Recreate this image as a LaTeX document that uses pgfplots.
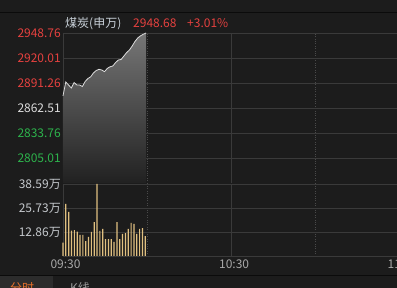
\documentclass[border=0pt]{standalone}
\usepackage{pgfplots}
\pgfplotsset{compat=1.18}
\usepackage{fontspec}
\setmainfont{Noto Sans CJK SC}
\definecolor{bg}{HTML}{1C1C1C}
\definecolor{sepc}{HTML}{0B0B0B}
\definecolor{gridc}{HTML}{3A3A3A}
\definecolor{dotc}{HTML}{4A4A4A}
\definecolor{up}{HTML}{E5413F}
\definecolor{dn}{HTML}{2DB34C}
\definecolor{flat}{HTML}{DCDCDC}
\definecolor{labc}{HTML}{C4C8CC}
\definecolor{timec}{HTML}{A8A8A8}
\definecolor{titlec}{HTML}{C8D0D8}
\definecolor{volc}{HTML}{E0C080}
\definecolor{tabact}{HTML}{2C2C2C}
\definecolor{tabor}{HTML}{E8702A}
\definecolor{tabgr}{HTML}{9A9A9A}
\definecolor{filltop}{HTML}{767676}
\definecolor{fillbot}{HTML}{212121}
\newcommand{\lf}{\fontsize{12}{14}\selectfont}
\begin{document}
\begin{tikzpicture}[x=1pt,y=1pt]
\path[use as bounding box] (0,0) rectangle (397,288);
\clip (0,0) rectangle (397,288);
\fill[bg] (0,0) rectangle (397,288);
\draw[sepc, line width=1pt] (0,275) -- (397,275);
\fill[tabact] (0,0) rectangle (53,12.3);
\draw[sepc, line width=1pt] (0,12.3) -- (397,12.3);
\node[anchor=north west, inner sep=0, text=tabor, font=\lf] at (10,5.5) {分时};
\node[anchor=north west, inner sep=0, text=tabgr, font=\lf] at (70,5.5) {K线};
\node[anchor=west, inner sep=0, text=titlec, font=\lf] at (65,264.5) {煤炭(申万)};
\node[anchor=west, inner sep=0, text=up, font=\lf] at (133,264.5) {2948.68};
\node[anchor=west, inner sep=0, text=up, font=\lf] at (187,264.5) {+3.01\%};

\begin{axis}[
  at={(63pt,105pt)}, anchor=south west, scale only axis,
  width=342.8pt, height=150pt,
  xmin=0, xmax=122, ymin=2776.26, ymax=2948.76,
  axis line style={draw=none},
  major tick length=0pt, minor tick length=0pt,
  tick style={draw=none},
  xtick={0,60,120}, xticklabels={},
  minor xtick={30,90},
  xmajorgrids, xminorgrids, ymajorgrids,
  major grid style={gridc, line width=0.9pt},
  minor grid style={dotc, dotted, line width=0.9pt},
  ytick={2805.01,2833.76,2862.51,2891.26,2920.01,2948.76},
  yticklabels={\textcolor{dn}{2805.01},\textcolor{dn}{2833.76},\textcolor{flat}{2862.51},\textcolor{up}{2891.26},\textcolor{up}{2920.01},\textcolor{up}{2948.76}},
  yticklabel style={font=\lf, inner sep=0pt, xshift=-2pt},
  clip=false,
]
\addplot[draw=none, top color=filltop, bottom color=fillbot] coordinates {
(0,2876.5) (0.985,2892.4) (1.97,2889.0) (2.955,2885.5) (3.94,2891.8) (4.925,2889.0)
(5.91,2889.0) (6.895,2887.2) (7.88,2893.0) (8.865,2896.4) (9.85,2898.4) (10.835,2902.8)
(11.82,2905.6) (12.805,2907.0) (13.79,2906.2) (14.775,2904.3) (15.76,2908.0) (16.745,2909.9)
(17.73,2910.8) (18.715,2914.8) (19.7,2917.7) (20.685,2918.3) (21.67,2922.3) (22.655,2926.3)
(23.64,2929.2) (24.625,2933.8) (25.61,2939.0) (26.595,2943.0) (27.58,2945.5) (28.565,2947.3)
(29.55,2948.68)} \closedcycle;
\addplot[color=flat, line width=0.8pt, mark=none] coordinates {
(0,2876.5) (0.985,2892.4) (1.97,2889.0) (2.955,2885.5) (3.94,2891.8) (4.925,2889.0)
(5.91,2889.0) (6.895,2887.2) (7.88,2893.0) (8.865,2896.4) (9.85,2898.4) (10.835,2902.8)
(11.82,2905.6) (12.805,2907.0) (13.79,2906.2) (14.775,2904.3) (15.76,2908.0) (16.745,2909.9)
(17.73,2910.8) (18.715,2914.8) (19.7,2917.7) (20.685,2918.3) (21.67,2922.3) (22.655,2926.3)
(23.64,2929.2) (24.625,2933.8) (25.61,2939.0) (26.595,2943.0) (27.58,2945.5) (28.565,2947.3)
(29.55,2948.68)};
\end{axis}

\begin{axis}[
  at={(63pt,32pt)}, anchor=south west, scale only axis,
  width=342.8pt, height=72pt,
  xmin=0, xmax=122, ymin=0, ymax=38.59,
  axis line style={draw=none},
  major tick length=0pt, minor tick length=0pt,
  tick style={draw=none},
  xtick={0,60,120}, xticklabels={09:30,10:30,11:30},
  minor xtick={30,90},
  xmajorgrids, xminorgrids, ymajorgrids,
  major grid style={gridc, line width=0.9pt},
  minor grid style={dotc, dotted, line width=0.9pt},
  ytick={0,12.86,25.73,38.59},
  yticklabels={,12.86万,25.73万,38.59万},
  yticklabel style={font=\lf, text=labc, inner sep=0pt, xshift=-2pt},
  xticklabel style={font=\lf, text=timec, inner sep=0pt, xshift=2.5pt, yshift=-3.5pt},
  clip=false,
]
\addplot[ybar, bar width=1.2pt, fill=volc, draw=none, bar shift=0pt] coordinates {
(0,7.1) (1.01,27.9) (2.02,23.6) (3.03,13.6) (4.04,13.9) (5.05,13.0) (6.06,11.3) (7.07,11.3)
(8.08,8.0) (9.09,10.2) (10.1,12.9) (11.11,18.2) (12.12,38.59) (13.13,13.4) (14.14,14.5)
(15.15,9.1) (16.16,9.1) (17.17,9.1) (18.18,7.5) (19.19,18.2) (20.2,9.1) (21.21,11.8)
(22.22,12.3) (23.23,14.5) (24.24,17.7) (25.25,17.2) (26.26,11.8) (27.27,14.5) (28.28,15.0)
(29.29,10.7)};
\end{axis}
\end{tikzpicture}
\end{document}
